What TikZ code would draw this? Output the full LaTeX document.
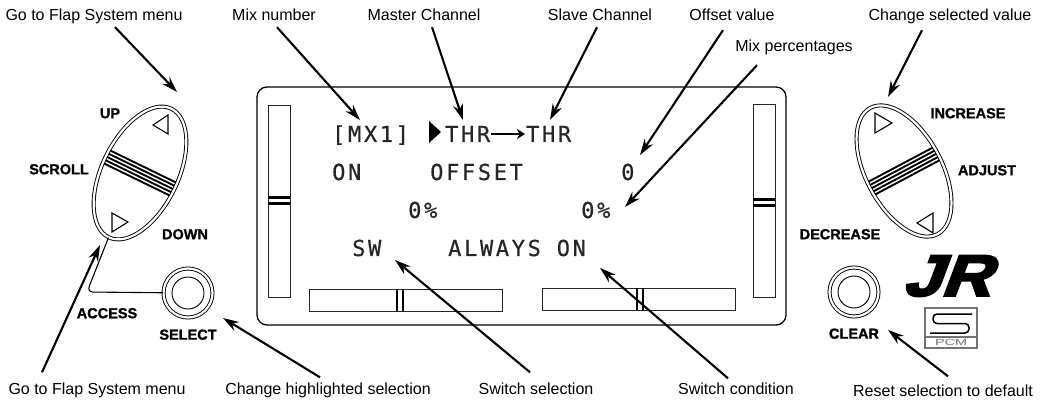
\documentclass[tikz,border=0pt]{standalone}
\usepackage{graphicx}
\usepackage{fontspec}
\setmainfont{Liberation Sans}
\newfontfamily\lcdfont[LetterSpace=12, FakeBold=0.6]{DejaVu Sans Mono}
\newfontfamily\keyfont[FakeBold=1.2]{Liberation Sans}
\newfontfamily\logofont[FakeBold=4,FakeSlant=0.32]{Liberation Sans}
\usetikzlibrary{positioning, shapes.geometric, arrows.meta}

\begin{document}
\begin{tikzpicture}[x=1pt, y=-1pt,
    lbl/.style={font=\fontsize{16}{18}\selectfont, anchor=base, inner sep=2pt, text height=11.5pt, text depth=4pt},
    btnlbl/.style={font=\fontsize{14.5}{16}\selectfont\keyfont\bfseries, inner sep=1pt, text height=10.5pt, text depth=0pt},
    lcd/.style={font=\fontsize{22}{24}\selectfont\lcdfont, text=black!85, anchor=base west, inner sep=1pt, text height=16pt, text depth=0pt},
    callout/.style={line width=2.1pt, -{Stealth[length=16pt, width=10pt]}},
    rocker/.style={ellipse, draw, double, double distance=2.2pt, line width=0.9pt, minimum width=76pt, minimum height=143pt, inner sep=0pt},
    pushbtn/.style={circle, draw, double, double distance=2.2pt, line width=0.9pt, minimum size=49pt, inner sep=0pt},
    bar/.style={draw=black!85, line width=0.8pt},
    tri/.style={draw, fill=white, line width=1.1pt, line join=miter}]
  \useasboundingbox (0,0) rectangle (1049,403);

  % display window
  \draw[line width=1.3pt, rounded corners=10pt] (257,87) rectangle (786,325);
  \draw[bar] (268,105) rectangle (290,297);
  \draw[bar] (753,104) rectangle (775,297);
  \draw[bar] (309,289) rectangle (502,311);
  \draw[bar] (542,288) rectangle (735,310);
  % trim marks
  \draw[line width=2.2pt] (268,197.5) -- (290,197.5) (268,203.5) -- (290,203.5);
  \draw[line width=2.2pt] (753,199.5) -- (775,199.5) (753,205.5) -- (775,205.5);
  \draw[line width=2.2pt] (397,289) -- (397,311) (403,289) -- (403,311);
  \draw[line width=2.2pt] (637,288) -- (637,310) (643,288) -- (643,310);

  % screen text
  \node (mx) [lcd] at (331,142) {[MX1]};
  \fill (429,121) -- (441,132) -- (429,143) -- cycle;
  \node (thrA) [lcd] at (444,142) {THR};
  \node (thrB) [lcd] at (525,142) {THR};
  \path[line width=2.2pt, -{Stealth[length=8pt, width=10pt]}] (thrA) edge (thrB);
  \node (onA) [lcd] at (331,180) {ON};
  \node (offset) [lcd] at (429,180) {OFFSET};
  \node (offsetVal) [lcd] at (620,180) {0};
  \node (pctA) [lcd] at (407,218) {0\%};
  \node (pctB) [lcd] at (580,218) {0\%};
  \node (sw) [lcd] at (351,256) {SW};
  \node (cond) [lcd] at (447,256) {ALWAYS ON};

  % scroll rocker
  \node (scroll) [rocker, rotate=-26] at (140,173) {};
  \begin{scope}[shift={(140,173)}, rotate=-26]
    \clip (0,0) ellipse [x radius=36.5, y radius=69.5];
    \draw[line width=1.9pt] (-45,-7.2) -- (45,-7.2) (-45,-3.6) -- (45,-3.6) (-45,0) -- (45,0)
      (-45,3.6) -- (45,3.6) (-45,7.2) -- (45,7.2);
  \end{scope}
  \draw[tri] (153,125) -- (168,115) -- (168,134) -- cycle;
  \draw[tri] (112,213) -- (128,222) -- (112,232) -- cycle;

  % adjust rocker
  \node (adjust) [rocker, rotate=28] at (904,171) {};
  \begin{scope}[shift={(904,171)}, rotate=28]
    \clip (0,0) ellipse [x radius=36.5, y radius=69.5];
    \draw[line width=1.9pt] (-45,-7.2) -- (45,-7.2) (-45,-3.6) -- (45,-3.6) (-45,0) -- (45,0)
      (-45,3.6) -- (45,3.6) (-45,7.2) -- (45,7.2);
  \end{scope}
  \draw[tri] (875,113) -- (892,123) -- (875,133) -- cycle;
  \draw[tri] (933,213) -- (917,223) -- (933,233) -- cycle;

  % push buttons
  \node (select) [pushbtn] at (188,293) {};
  \draw[line width=0.9pt] (select.center) circle [radius=16];
  \node (clear) [pushbtn] at (854,292) {};
  \draw[line width=0.9pt] (clear.center) circle [radius=16];
  \coordinate (accessBend) at (87,292);
  \draw[line width=1.1pt, rounded corners=6pt] (scroll.south) -- (accessBend) -- (select);

  \node (upL) [btnlbl] at (110,113) {UP};
  \node (scrollL) [btnlbl] at (59,169) {SCROLL};
  \node (downL) [btnlbl] at (185,234) {DOWN};
  \node (accessL) [btnlbl] at (107,313) {ACCESS};
  \node (selectL) [btnlbl, below=10pt of select] {SELECT};
  \node (incL) [btnlbl] at (968,113) {INCREASE};
  \node (adjustL) [btnlbl] at (987,170) {ADJUST};
  \node (decL) [btnlbl] at (840,234) {DECREASE};
  \node (clearL) [btnlbl, below=10pt of clear] {CLEAR};

  % logos
  \node (jr) [inner sep=0pt] at (946,276) {\logofont\bfseries\fontsize{58}{58}\selectfont\scalebox{1.18}[1]{JR}};
  \draw[black!55, line width=1.6pt] (925,308) rectangle (977,348);
  \draw[black!55, line width=1.2pt] (925,337) -- (977,337);
  \draw[line width=1.5pt, rounded corners=4pt] (972,314) -- (933,314) -- (933,323.5) -- (969,323.5) -- (969,333) -- (930,333);
  \node (pcm) [inner sep=0pt] at (951,342.5) {\fontsize{9}{9}\selectfont\color{black!55}\scalebox{1.6}[1]{PCM}};

  % callouts
  \node (flapTop) [lbl] at (94,21) {Go to Flap System menu};
  \node (mixNum) [lbl] at (274,21) {Mix number};
  \node (master) [lbl] at (424,21) {Master Channel};
  \node (slave) [lbl] at (600,21) {Slave Channel};
  \node (offsetV) [lbl] at (732,21) {Offset value};
  \node (mixPct) [lbl] at (794,52) {Mix percentages};
  \node (changeSel) [lbl] at (950,21) {Change selected value};
  \node (flapBot) [lbl] at (97,394) {Go to Flap System menu};
  \node (changeHl) [lbl] at (328,394) {Change highlighted selection};
  \node (swSel) [lbl] at (536,394) {Switch selection};
  \node (swCond) [lbl] at (736,394) {Switch condition};
  \node (resetSel) [lbl] at (943,396) {Reset selection to default};

  \coordinate (flapTopTip) at (177,92);
  \coordinate (mixTip) at (360,120);
  \coordinate (masterTip) at (463,120);
  \coordinate (slaveTip) at (550,120);
  \coordinate (offsetTip) at (640,155);
  \coordinate (pctTip) at (625,207);
  \coordinate (adjustTip) at (888,97);
  \coordinate (flapBotTip) at (100,245);
  \coordinate (selectTip) at (223,318);
  \coordinate (swTip) at (395,260);
  \coordinate (condTip) at (600,268);
  \coordinate (clearTip) at (888,330);

  \path[callout]
    ([xshift=21pt]flapTop.south) edge (flapTopTip)
    ([xshift=3pt]mixNum.south) edge (mixTip)
    ([xshift=8pt]master.south) edge (masterTip)
    ([xshift=-3pt]slave.south) edge (slaveTip)
    ([xshift=-9pt, yshift=-3pt]offsetV.south) edge (offsetTip)
    ([xshift=-37pt, yshift=-7pt]mixPct.south) edge (pctTip)
    ([xshift=-28pt, yshift=-3pt]changeSel.south) edge (adjustTip)
    ([xshift=-55pt, yshift=8pt]flapBot.north) edge (flapBotTip)
    ([xshift=-8pt, yshift=3pt]changeHl.north) edge (selectTip)
    ([xshift=-6pt, yshift=8pt]swSel.north) edge (swTip)
    ([xshift=-8pt, yshift=2pt]swCond.north) edge (condTip)
    ([xshift=5pt, yshift=6pt]resetSel.north) edge (clearTip);
\end{tikzpicture}
\end{document}
